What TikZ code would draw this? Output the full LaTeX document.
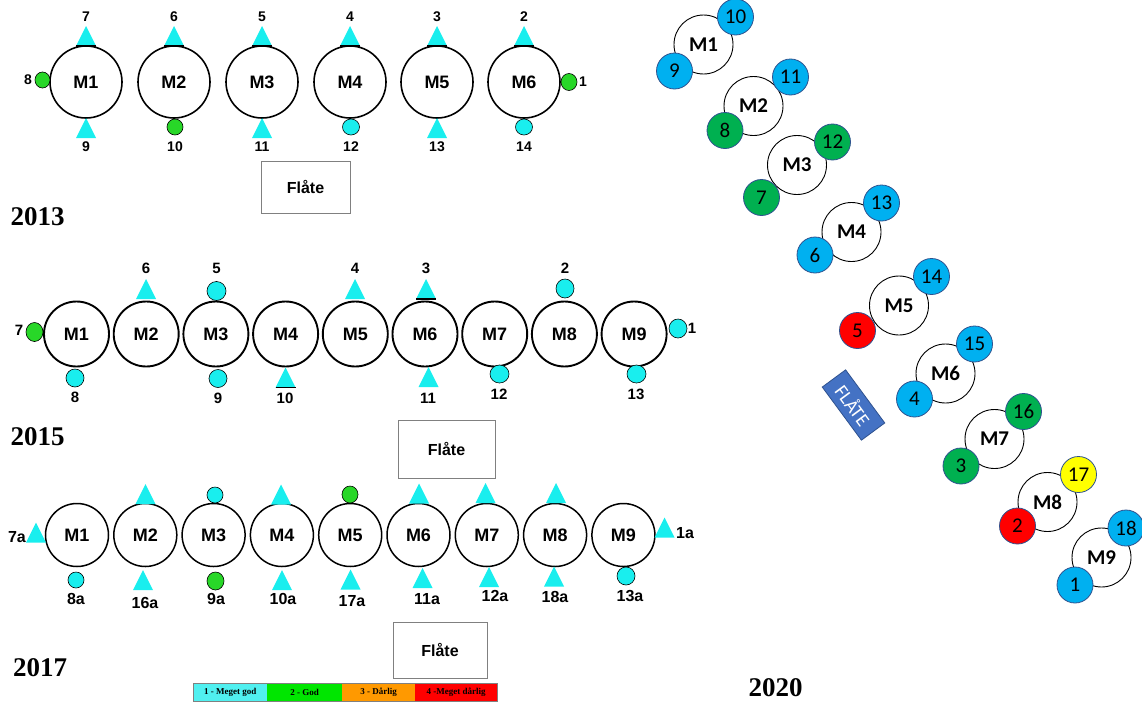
\documentclass[tikz,border=0pt]{standalone}
\usepackage{fontspec}
\newfontfamily\arialf{Liberation Sans}
\newfontfamily\timesf{Liberation Serif}
\newfontfamily\calf{Carlito}
\newcommand\fsz[1]{\fontsize{#1}{#1}\selectfont}
\definecolor{cyanM}{RGB}{25,238,238}
\definecolor{greenM}{RGB}{40,215,40}
\definecolor{blueN}{RGB}{0,176,240}
\definecolor{greenN}{RGB}{0,176,80}
\definecolor{redN}{RGB}{255,0,0}
\definecolor{yellowN}{RGB}{255,255,0}
\definecolor{edgeN}{RGB}{47,82,143}
\definecolor{flate}{RGB}{68,114,196}
\definecolor{legC}{RGB}{80,240,240}
\definecolor{legG}{RGB}{0,230,0}
\definecolor{legO}{RGB}{255,153,0}
\definecolor{legR}{RGB}{255,0,0}
\tikzset{
 mA/.style={circle, draw, line width=1.6pt, minimum size=72pt, inner sep=0pt, fill=white, font=\arialf\bfseries\fsz{18}},
 mB/.style={circle, draw, line width=1.9pt, minimum size=65pt, inner sep=0pt, fill=white, font=\arialf\bfseries\fsz{18}},
 mC/.style={circle, draw, line width=1.5pt, minimum size=63pt, inner sep=0pt, fill=white, font=\arialf\bfseries\fsz{18}},
 mD/.style={circle, draw, line width=0.9pt, minimum size=59pt, inner sep=0pt, fill=white, font=\calf\bfseries\fsz{21}},
 dotc/.style={ellipse, draw, line width=0.6pt, fill=cyanM, minimum width=17pt, minimum height=17pt, inner sep=0pt},
 dotg/.style={ellipse, draw, line width=0.6pt, fill=greenM, minimum width=16pt, minimum height=17pt, inner sep=0pt},
 labA/.style={font=\arialf\bfseries\fsz{14}, inner sep=0pt},
 labB/.style={font=\arialf\bfseries\fsz{15}, inner sep=0pt},
 labC/.style={font=\arialf\bfseries\fsz{16}, inner sep=0pt},
 num/.style={circle, draw=edgeN, line width=0.8pt, minimum size=36pt, inner sep=0pt, font=\calf\fsz{21}},
 yearlab/.style={font=\timesf\bfseries\fsz{27}, inner sep=0pt},
 flbox/.style={draw=gray, line width=0.8pt, fill=white, inner sep=0pt, font=\arialf\bfseries\fsz{16}},
 legseg/.style={minimum height=17pt, inner sep=0pt, font=\timesf\bfseries\fsz{9}},
 trimark/.pic={\fill[cyanM] (-10,10) -- (10,10) -- (0,-10) -- cycle;},
 basel/.style={line width=1.5pt}
}
\usetikzlibrary{shapes.geometric}
\begin{document}
\begin{tikzpicture}[x=1pt,y=-1pt]
\useasboundingbox (0,0) rectangle (1142,704);
% ================= 2013 =================
\foreach \i/\x/\t in {1/86/7,2/174/6,3/262/5,4/350/4,5/437/3,6/524/2}{
  \pic at (\x,36) {trimark};
  \draw[basel] (\x-10,46) -- (\x+10,46);
  \node[labA] (a-t\i) at (\x,17) {\t};
}
\foreach \i/\x in {1/86,2/174,3/262,4/350,5/437,6/524}{
  \node[mA] (a-m\i) at (\x,82) {M\i};
}
\pic at (86,128) {trimark};
\node[dotg, minimum width=16pt, minimum height=16pt] (a-d10) at (175,127) {};
\pic at (262,128) {trimark};
\node[dotc, minimum width=17pt, minimum height=16pt] (a-d12) at (351,127) {};
\pic at (437,128) {trimark};
\node[dotc, minimum width=17pt, minimum height=16pt] (a-d14) at (524,127) {};
\foreach \x/\t in {86/9,175/10,262/11,351/12,437/13,524/14}{
  \node[labA] (a-b\t) at (\x,147) {\t};
}
\node[dotg, minimum width=15pt, minimum height=16pt] (a-d8) at (42.5,80) {};
\node[labA] (a-l8) at (28,80) {8};
\node[dotg, minimum width=16pt, minimum height=17pt] (a-d1) at (569,82) {};
\node[labA] (a-l1) at (583,82) {1};
\node[flbox, minimum width=89pt, minimum height=52pt] (a-fl) at (305.5,187) {Flåte};
\node[yearlab] (y13) at (37.5,217) {2013};
% ================= 2015 =================
\foreach \i in {1,...,9}{
  \node[mB] (b-m\i) at ({76.5+69.7*(\i-1)},334) {M\i};
}
\pic at (146,289) {trimark};
\node[dotc, minimum width=19pt, minimum height=19pt] (b-d5) at (216.5,291) {};
\pic at (355,289) {trimark};
\pic at (426,289) {trimark};
\draw[basel] (416,299) -- (436,299);
\node[dotc, minimum width=18pt, minimum height=19pt] (b-d2) at (565,288.5) {};
\foreach \x/\t in {146/6,216.5/5,355/4,426/3,565/2}{
  \node[labB] (b-t\t) at (\x,268) {\t};
}
\node[dotc, minimum width=18pt, minimum height=18pt] (b-d8) at (75,378) {};
\node[dotc, minimum width=18pt, minimum height=18pt] (b-d9) at (218,378.5) {};
\pic at (285.5,377.5) {trimark};
\draw[basel] (275.5,387.5) -- (295.5,387.5);
\pic at (428.5,377) {trimark};
\node[dotc, minimum width=19pt, minimum height=18pt] (b-d12) at (499.5,374) {};
\node[dotc, minimum width=19pt, minimum height=18pt] (b-d13) at (636.5,374) {};
\node[labB] (b-l8) at (75,397) {8};
\node[labB] (b-l9) at (218,398) {9};
\node[labB] (b-l10) at (285,398) {10};
\node[labB] (b-l11) at (428,398) {11};
\node[labB] (b-l12) at (499,394) {12};
\node[labB] (b-l13) at (636,394) {13};
\node[dotg, minimum width=17pt, minimum height=19pt] (b-d7) at (34.5,332) {};
\node[labB] (b-l7) at (19,330) {7};
\node[dotc, minimum width=18pt, minimum height=19pt] (b-d1) at (678,328.5) {};
\node[labB] (b-l1) at (692,328) {1};
\node[flbox, minimum width=97pt, minimum height=58pt] (b-fl) at (446.5,449) {Flåte};
\node[yearlab] (y15) at (37.5,437) {2015};
% ================= 2017 =================
\foreach \i in {1,...,9}{
  \node[mC] (c-m\i) at ({77+68.3*(\i-1)},535) {M\i};
}
\pic at (145.5,494) {trimark};
\node[dotc, minimum width=16pt, minimum height=16pt] (c-d3) at (215,495) {};
\pic at (281,494.5) {trimark};
\node[dotg, minimum width=16pt, minimum height=17pt] (c-d5) at (350,494.5) {};
\pic at (419,493.5) {trimark};
\pic at (485.5,493) {trimark};
\pic at (556,493) {trimark};
\pic at (36,532.5) {trimark};
\node[labC] (c-l7a) at (17,537) {7a};
\pic at (664.5,527.5) {trimark};
\node[labC] (c-l1a) at (685,533) {1a};
\node[dotc, minimum width=16pt, minimum height=16pt] (c-d8a) at (76,580) {};
\pic at (143,580) {trimark};
\node[dotg, minimum width=17pt, minimum height=18pt] (c-d9a) at (215.5,581) {};
\pic at (282,580) {trimark};
\pic at (350.5,579.5) {trimark};
\pic at (422.5,578) {trimark};
\pic at (489,577) {trimark};
\pic at (554,576.5) {trimark};
\node[dotc, minimum width=18pt, minimum height=18pt] (c-d13a) at (626,576) {};
\node[labC] (c-l8a) at (76,599) {8a};
\node[labC] (c-l16a) at (145,603) {16a};
\node[labC] (c-l9a) at (216,599) {9a};
\node[labC] (c-l10a) at (283,599) {10a};
\node[labC] (c-l17a) at (352,601) {17a};
\node[labC] (c-l11a) at (427,599) {11a};
\node[labC] (c-l12a) at (495,596) {12a};
\node[labC] (c-l18a) at (555,597) {18a};
\node[labC] (c-l13a) at (630,596) {13a};
\node[flbox, minimum width=94pt, minimum height=56pt] (c-fl) at (440,650) {Flåte};
\node[yearlab] (y17) at (40,668) {2017};
% legend
\node[legseg, fill=legC, minimum width=74pt, anchor=west] (lg1) at (193,692.5) {1 - Meget god};
\node[legseg, fill=legG, minimum width=75pt, anchor=west] (lg2) at (267,692.5) {2 - God};
\node[legseg, fill=legO, minimum width=73pt, anchor=west] (lg3) at (342,692.5) {3 - Dårlig};
\node[legseg, fill=legR, minimum width=82pt, anchor=west] (lg4) at (415,692.5) {4 -Meget dårlig};
\draw[gray, line width=0.8pt] (lg1.north west) rectangle (lg4.south east);
% ================= 2020 =================
\node[mD] (d-m1) at (703.5,44.5) {M1};
\node[mD] (d-m2) at (753.5,106) {M2};
\node[mD] (d-m3) at (797,165) {M3};
\node[mD] (d-m4) at (851.5,232) {M4};
\node[mD] (d-m5) at (899,305.5) {M5};
\node[mD] (d-m6) at (945.5,373.5) {M6};
\node[mD] (d-m7) at (994.5,439) {M7};
\node[mD] (d-m8) at (1047.5,502) {M8};
\node[mD] (d-m9) at (1101.5,557.5) {M9};
\node[num, fill=blueN] (d-n10) at (735.5,17) {10};
\node[num, fill=blueN] (d-n9) at (674.5,71) {9};
\node[num, fill=blueN] (d-n11) at (790.5,77) {11};
\node[num, fill=greenN] (d-n8) at (725,130.5) {8};
\node[num, fill=greenN] (d-n12) at (832.5,142) {12};
\node[num, fill=greenN] (d-n7) at (761.5,197.5) {7};
\node[num, fill=blueN] (d-n13) at (881.5,203) {13};
\node[num, fill=blueN] (d-n6) at (815,255) {6};
\node[num, fill=blueN] (d-n14) at (931.5,276.5) {14};
\node[num, fill=redN] (d-n5) at (857.5,330.5) {5};
\node[num, fill=blueN] (d-n15) at (974.5,344) {15};
\node[num, fill=blueN] (d-n4) at (914.5,399) {4};
\node[num, fill=greenN] (d-n16) at (1023.5,411.5) {16};
\node[num, fill=greenN] (d-n3) at (961,466) {3};
\node[num, fill=yellowN] (d-n17) at (1078.5,474.5) {17};
\node[num, fill=redN] (d-n2) at (1017.5,526) {2};
\node[num, fill=blueN] (d-n18) at (1126,528) {18};
\node[num, fill=blueN] (d-n1) at (1075,585) {1};
\node[fill=flate, draw=edgeN, line width=0.8pt, rotate=-53.6, minimum width=66pt, minimum height=29pt, inner sep=0pt, text=white, font=\calf\fsz{19}] (d-fl) at (853.5,405) {FLÅTE};
\node[yearlab] (y20) at (775.5,688) {2020};
\end{tikzpicture}
\end{document}
